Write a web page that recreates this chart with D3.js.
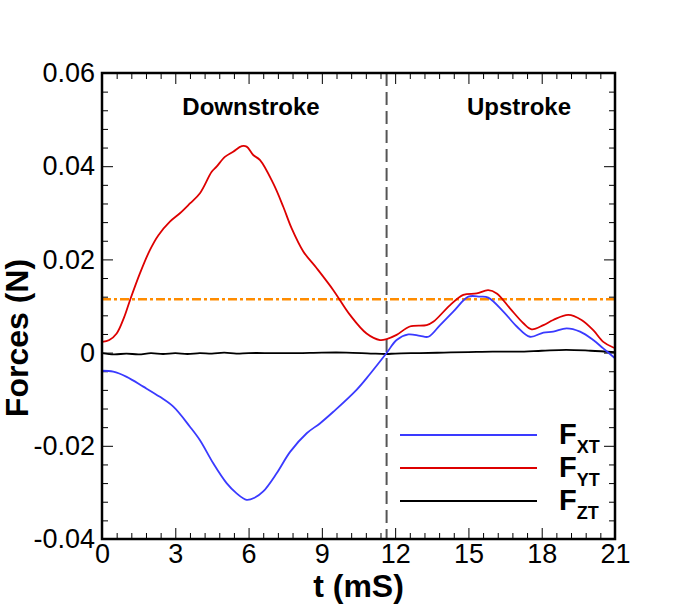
<!DOCTYPE html>
<html>
<head>
<meta charset="utf-8">
<title>Forces vs time</title>
<script src="https://d3js.org/d3.v7.min.js"></script>
<style>
  body { margin: 0; padding: 0; background: #fff; }
  text { font-family: "Liberation Sans", Arial, sans-serif; }
</style>
</head>
<body>
<div id="chart"></div>
<script>
// data (t in mS, force in N)
const fxT = [0, 0.46, 1.01, 1.69, 2.37, 2.92, 3.6, 4.01, 4.56, 5.1, 5.51, 5.92, 6.26, 6.6, 7.15, 7.7,
  8.38, 8.92, 9.47, 10.42, 10.97, 11.65, 12.06, 12.54, 13.02, 13.36, 13.84, 14.38, 15.0, 15.47,
  15.81, 16.43, 16.98, 17.52, 18.07, 18.47, 19.02, 19.57, 20.11, 20.52, 21];
const fxV = [-0.0039, -0.0041, -0.0052, -0.0073, -0.0095, -0.0116, -0.0159, -0.0188, -0.0238, -0.0280,
  -0.0302, -0.0316, -0.0311, -0.0298, -0.0259, -0.0213, -0.0173, -0.0152, -0.0127, -0.0080, -0.0046,
  -0.0001, 0.0027, 0.0039, 0.0036, 0.0034, 0.0059, 0.0088, 0.0120, 0.0120, 0.0118, 0.0088, 0.0056,
  0.0034, 0.0043, 0.0045, 0.0052, 0.0045, 0.0027, 0.0009, -0.0012];

const fyT = [0, 0.3, 0.6, 0.9, 1.15, 1.56, 1.96, 2.31, 2.78, 3.19, 3.6, 4.01, 4.49, 4.69, 5.03, 5.37,
  5.72, 5.92, 6.19, 6.47, 7.01, 7.42, 7.76, 8.24, 8.79, 9.47, 10.15, 10.83, 11.38, 11.65, 12.06,
  12.6, 13.29, 13.56, 14.25, 14.79, 15.34, 15.81, 16.16, 16.7, 17.25, 17.59, 18.07, 18.47, 19.09,
  19.63, 20.11, 20.52, 20.93, 21];
const fyV = [0.0023, 0.0027, 0.0041, 0.0075, 0.0113, 0.0171, 0.0220, 0.0252, 0.0281, 0.0299, 0.0320,
  0.0342, 0.0388, 0.0399, 0.0420, 0.0431, 0.0443, 0.0442, 0.0424, 0.0413, 0.0363, 0.0313, 0.0267,
  0.0217, 0.0181, 0.0134, 0.0081, 0.0041, 0.0027, 0.0029, 0.0038, 0.0056, 0.0059, 0.0066, 0.0102,
  0.0124, 0.0127, 0.0134, 0.0127, 0.0095, 0.0063, 0.0050, 0.0059, 0.0070, 0.0081, 0.0070, 0.0048,
  0.0023, 0.0011, 0.0010];

const fzT = [0, 0.5, 1, 1.5, 2, 2.5, 3, 3.5, 4, 4.5, 5, 5.5, 6, 7, 8, 9, 10, 11, 11.65, 12, 13, 14, 15,
  16, 17, 18, 19, 20, 21];
const fzV = [-0.0001, -0.0004, -0.0002, -0.0004, -0.0001, -0.0003, -0.0001, -0.0003, -0.0001, -0.0002,
  0, -0.0002, -0.0001, -0.0001, -0.0001, 0, 0, -0.0002, -0.0003, -0.0002, -0.0001, 0, 0.0001, 0.0002,
  0.0002, 0.0004, 0.0006, 0.0004, 0.0001];

const meanLevel = 0.01144;
const strokeSplit = 11.65;

const xTicks = [0, 3, 6, 9, 12, 15, 18, 21];
const yTicks = [-0.04, -0.02, 0, 0.02, 0.04, 0.06];
const yTickLabels = ["-0.04", "-0.02", "0", "0.02", "0.04", "0.06"];

const W = 684, H = 608;
const L = 102, R = 615, T = 73, B = 539;

const svg = d3.select("#chart").append("svg")
  .attr("width", W).attr("height", H)
  .style("background", "#fff");

const x = d3.scaleLinear().domain([0, 21]).range([L, R]);
const y = d3.scaleLinear().domain([-0.04, 0.06]).range([B, T]);

// minor ticks
const xMinor = d3.range(0, 21.001, 0.6).filter(v => Math.abs(v / 3 - Math.round(v / 3)) > 0.01);
const yMinor = d3.range(-0.04, 0.0601, 0.004).filter(v => Math.abs(v / 0.02 - Math.round(v / 0.02)) > 0.01);

function axisGroup(axis, tx, ty) {
  const g = svg.append("g").attr("transform", `translate(${tx},${ty})`).call(axis);
  g.select(".domain").remove();
  return g;
}

// bottom
const gb = axisGroup(d3.axisBottom(x).tickValues(xTicks).tickSize(-11).tickPadding(5).tickFormat(d3.format("d")), 0, B);
gb.selectAll("text").style("font-size", "27px").attr("fill", "#000");
axisGroup(d3.axisBottom(x).tickValues(xMinor).tickSize(-6).tickFormat(""), 0, B);
// top
axisGroup(d3.axisTop(x).tickValues(xTicks).tickSize(-11).tickFormat(""), 0, T);
axisGroup(d3.axisTop(x).tickValues(xMinor).tickSize(-6).tickFormat(""), 0, T);
// left
const gl = axisGroup(d3.axisLeft(y).tickValues(yTicks).tickSize(-11).tickPadding(7)
  .tickFormat((d, i) => yTickLabels[i]), L, 0);
gl.selectAll("text").style("font-size", "27px").attr("fill", "#000");
axisGroup(d3.axisLeft(y).tickValues(yMinor).tickSize(-6).tickFormat(""), L, 0);
// right
axisGroup(d3.axisRight(y).tickValues(yTicks).tickSize(-11).tickFormat(""), R, 0);
axisGroup(d3.axisRight(y).tickValues(yMinor).tickSize(-6).tickFormat(""), R, 0);

svg.selectAll(".tick line").attr("stroke", "#000");

// mean level and stroke split
svg.append("line")
  .attr("x1", x(0)).attr("x2", x(21))
  .attr("y1", y(meanLevel)).attr("y2", y(meanLevel))
  .attr("stroke", "#ff8c00").attr("stroke-width", 2.5)
  .attr("stroke-dasharray", "9,3,3,3");

svg.append("line")
  .attr("x1", x(strokeSplit)).attr("x2", x(strokeSplit))
  .attr("y1", y(0.06)).attr("y2", y(-0.04))
  .attr("stroke", "#555").attr("stroke-width", 2)
  .attr("stroke-dasharray", "13,6");

// curves
const line = d3.line().x(d => x(d[0])).y(d => y(d[1])).curve(d3.curveCatmullRom.alpha(0.5));
const series = [
  { t: fzT, v: fzV, color: "#000000" },
  { t: fxT, v: fxV, color: "#3a3aff" },
  { t: fyT, v: fyV, color: "#dd0000" }
];
series.forEach(s => {
  svg.append("path")
    .datum(s.t.map((t, i) => [t, s.v[i]]))
    .attr("fill", "none")
    .attr("stroke", s.color)
    .attr("stroke-width", 1.8)
    .attr("d", line);
});

// frame
svg.append("rect")
  .attr("x", L).attr("y", T).attr("width", R - L).attr("height", B - T)
  .attr("fill", "none").attr("stroke", "#000").attr("stroke-width", 2.5);

// phase labels
svg.append("text").attr("x", 251).attr("y", 115).attr("text-anchor", "middle")
  .style("font-size", "24px").style("font-weight", "bold").text("Downstroke");
svg.append("text").attr("x", 519).attr("y", 115).attr("text-anchor", "middle")
  .style("font-size", "24px").style("font-weight", "bold").text("Upstroke");

// axis titles
svg.append("text").attr("x", x(10.5)).attr("y", 597).attr("text-anchor", "middle")
  .style("font-size", "32px").style("font-weight", "bold").text("t (mS)");
svg.append("text").attr("transform", "translate(28,338) rotate(-90)").attr("text-anchor", "middle")
  .style("font-size", "32px").style("font-weight", "bold").text("Forces (N)");

// legend
const legend = [
  { color: "#3a3aff", sub: "XT" },
  { color: "#dd0000", sub: "YT" },
  { color: "#000000", sub: "ZT" }
];
legend.forEach((d, i) => {
  const ly = 435 + i * 33;
  svg.append("line").attr("x1", 400).attr("x2", 537).attr("y1", ly).attr("y2", ly)
    .attr("stroke", d.color).attr("stroke-width", 2);
  const t = svg.append("text").attr("x", 559).attr("y", ly + 9)
    .style("font-size", "29px").style("font-weight", "bold");
  t.append("tspan").text("F");
  t.append("tspan").attr("dy", 9).style("font-size", "18px").text(d.sub);
});
</script>
</body>
</html>
